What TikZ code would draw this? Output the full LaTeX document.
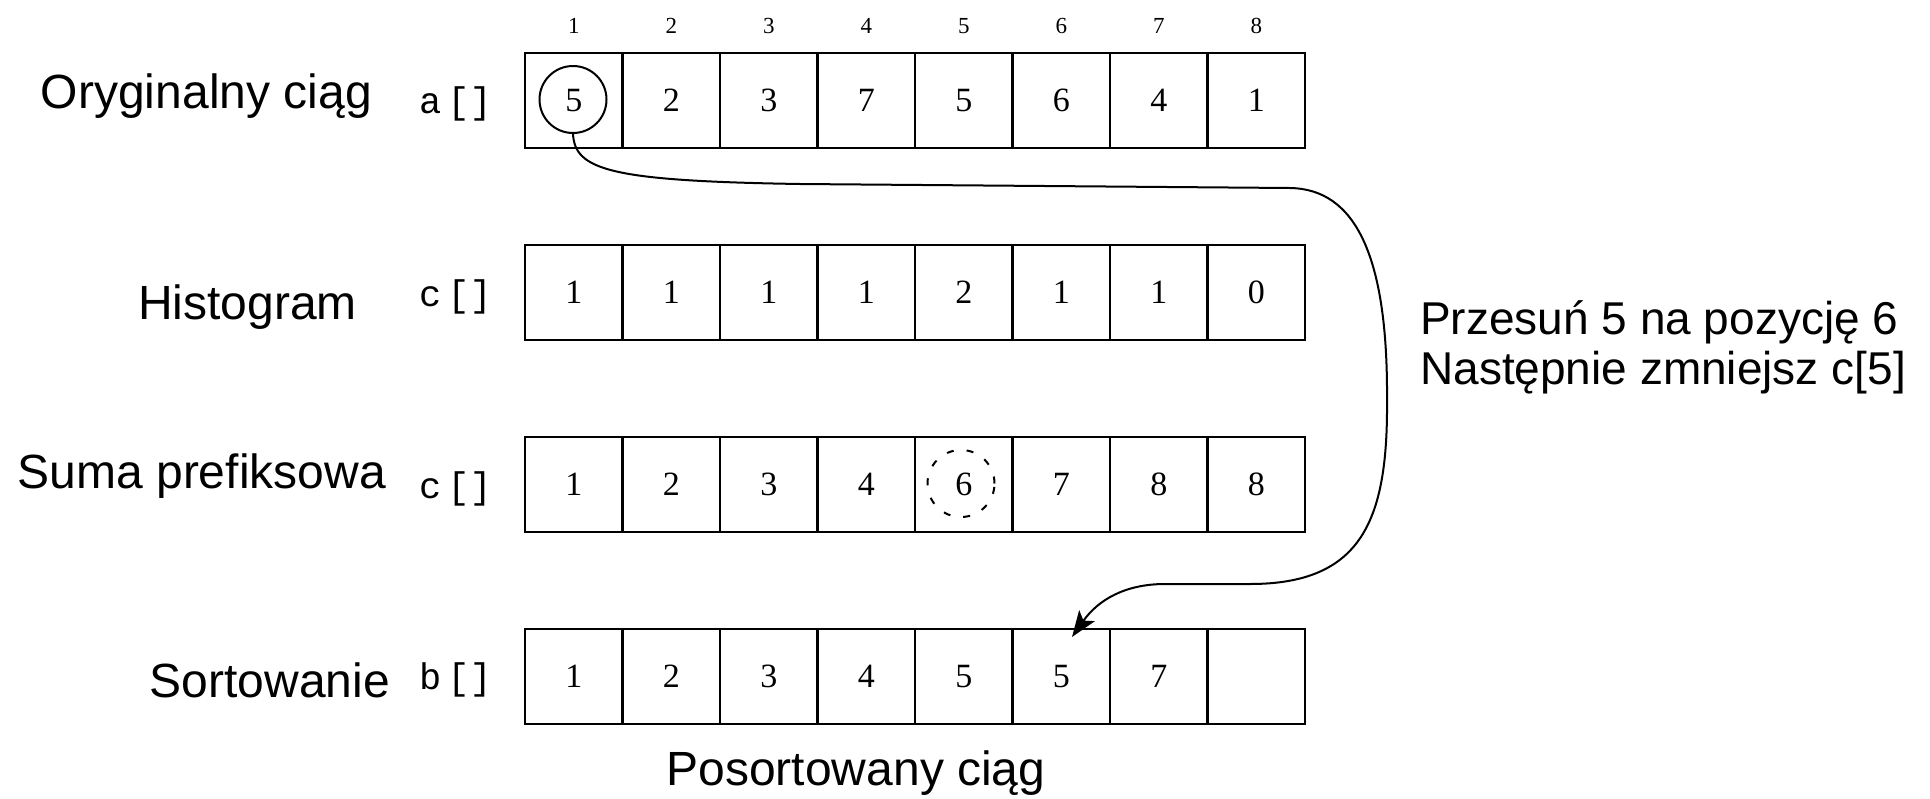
\documentclass[tikz,border=0pt]{standalone}
\usepackage{fontspec}
\setmainfont{Liberation Serif}
\newfontfamily\lsans{Liberation Sans}
\newfontfamily\lmono{Liberation Mono}
\usetikzlibrary{arrows.meta}
\begin{document}
\begin{tikzpicture}[x=1pt,y=-1pt,
  cell/.style={draw, line width=2.2pt, minimum width=97.5pt, minimum height=95pt, inner sep=0pt, font=\fontsize{34}{34}\selectfont},
  idx/.style={font=\fontsize{23}{23}\selectfont, inner sep=0pt},
  rowlabel/.style={font=\lsans\fontsize{48}{48}\selectfont, inner sep=0pt, anchor=base east},
  arrlabel/.style={font=\lmono\fontsize{37}{37}\selectfont, inner sep=0pt, anchor=base east},
  note/.style={font=\lsans\fontsize{46}{50}\selectfont, inner sep=0pt, align=left, anchor=base west},
  ring/.style={draw, circle, line width=2pt, minimum size=67pt, inner sep=0pt},
  conn/.style={line width=2pt, -{Stealth[length=26pt,width=19pt,inset=6pt]}}
]
\useasboundingbox (0,0) rectangle (1930,798);
% index numbers
\foreach \i in {1,...,8}
  \node[idx] (n\i) at ({476.25+97.5*\i},26) {\i};
% rows
\foreach \v [count=\i] in {5,2,3,7,5,6,4,1}
  \node[cell] (a\i) at ({476.25+97.5*\i},100.5) {\v};
\foreach \v [count=\i] in {1,1,1,1,2,1,1,0}
  \node[cell] (h\i) at ({476.25+97.5*\i},292.5) {\v};
\foreach \v [count=\i] in {1,2,3,4,6,7,8,8}
  \node[cell] (p\i) at ({476.25+97.5*\i},484.5) {\v};
\foreach \v [count=\i] in {1,2,3,4,5,5,7,{}}
  \node[cell] (b\i) at ({476.25+97.5*\i},676.5) {\v};
% row labels
\node[rowlabel] (lo) at (372,108) {Oryginalny ciąg};
\node[rowlabel] (lh) at (357,319) {Histogram};
\node[rowlabel] (ls) at (386,488) {Suma prefiksowa};
\node[rowlabel] (lb) at (390,697) {Sortowanie};
% array labels
\node[arrlabel] (aa) at (492,113) {a\,[]};
\node[arrlabel] (ah) at (492,306) {c\,[]};
\node[arrlabel] (ap) at (492,498) {c\,[]};
\node[arrlabel] (ab) at (492,689) {b\,[]};
% circles
\node[ring] (r1) at (573,99.5) {};
\node[ring, dash pattern=on 7pt off 13pt] (r2) at (961,483.5) {};
% caption and note
\node[font=\lsans\fontsize{48}{48}\selectfont, inner sep=0pt, anchor=base] (cap) at (856,785) {Posortowany ciąg};
\node[note] (note) at (1420,384) {Przesuń 5 na pozycję 6\\Następnie zmniejsz c[5]};
% connector
\coordinate (tip) at (1072,637);
\draw[conn] (r1.south) .. controls (575,170) and (610,181) .. (800,184)
  -- (1290,188) .. controls (1355,189) and (1388,255) .. (1387,400)
  .. controls (1388,520) and (1362,584) .. (1250,584)
  -- (1165,584) .. controls (1125,584) and (1098,600) .. (tip);
\end{tikzpicture}
\end{document}
